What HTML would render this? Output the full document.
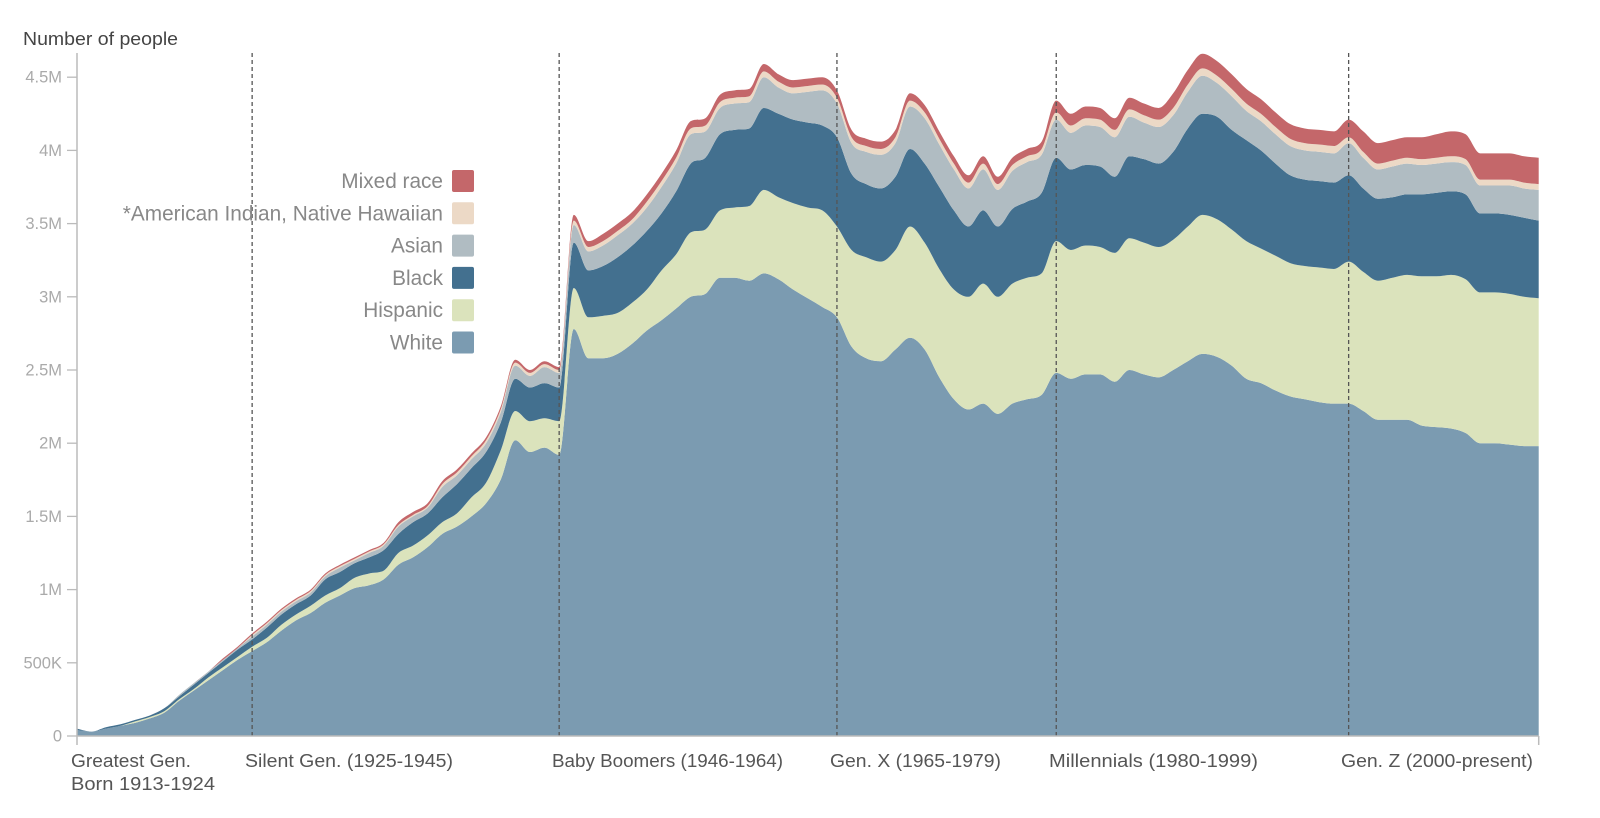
<!DOCTYPE html>
<html><head><meta charset="utf-8"><style>
html,body{margin:0;padding:0;background:#fff;}
svg{display:block;font-family:"Liberation Sans",sans-serif;}
</style></head><body>
<svg id="chart" width="1600" height="818" viewBox="0 0 1600 818" xmlns="http://www.w3.org/2000/svg">
<g id="areas"></g>
<g id="grid"></g>
<g id="axes"></g>
<text x="23" y="45" font-size="18.5" fill="#444" textLength="155" lengthAdjust="spacingAndGlyphs">Number of people</text>
<g id="legend"></g>
</svg>
<script>
const years = [];
for (let y = 1913; y <= 2013; y++) years.push(y);
const white = [.04,.03,.05,.07,.09,.12,.16,.24,.31,.38,.45,.52,.58,.64,.72,.79,.84,.91,.96,1.01,1.03,1.07,1.17,1.22,1.29,1.38,1.43,1.50,1.59,1.75,2.02,1.94,1.97,1.92,2.78,2.58,2.58,2.61,2.68,2.77,2.84,2.92,3.00,3.02,3.13,3.13,3.11,3.16,3.12,3.05,2.99,2.93,2.86,2.66,2.58,2.56,2.64,2.72,2.64,2.45,2.30,2.23,2.27,2.20,2.27,2.30,2.33,2.48,2.44,2.47,2.47,2.42,2.50,2.47,2.45,2.50,2.56,2.61,2.59,2.53,2.44,2.41,2.36,2.32,2.30,2.28,2.27,2.27,2.22,2.16,2.16,2.16,2.12,2.11,2.10,2.07,2.00,2.00,1.99,1.98,1.98];
const hispanic = [0,0,0,0,.01,.01,.01,.01,.01,.02,.02,.02,.03,.03,.04,.04,.05,.05,.05,.07,.08,.06,.08,.08,.08,.08,.09,.13,.14,.20,.20,.21,.20,.23,.28,.28,.29,.28,.28,.28,.34,.37,.44,.44,.46,.48,.51,.57,.56,.59,.62,.66,.62,.66,.69,.68,.68,.76,.73,.74,.75,.77,.82,.80,.82,.83,.83,.90,.88,.88,.87,.88,.90,.90,.89,.89,.92,.95,.94,.93,.94,.92,.92,.91,.91,.92,.92,.97,.95,.95,.97,.99,1.02,1.03,1.05,1.05,1.03,1.03,1.03,1.02,1.01];
const black = [.01,0,.01,.01,.01,.01,.02,.02,.03,.03,.04,.05,.05,.07,.07,.07,.07,.11,.11,.10,.11,.14,.13,.16,.15,.17,.20,.20,.21,.19,.22,.23,.24,.23,.31,.32,.34,.38,.39,.40,.39,.43,.47,.49,.52,.53,.53,.56,.57,.57,.58,.58,.61,.52,.50,.50,.50,.53,.54,.56,.54,.48,.50,.48,.51,.52,.55,.57,.55,.55,.55,.52,.56,.57,.57,.60,.67,.69,.70,.68,.69,.67,.63,.60,.59,.59,.59,.59,.57,.56,.55,.55,.56,.57,.57,.58,.54,.54,.54,.54,.53];
const asian = [0,0,0,0,0,0,0,.01,.01,.01,.01,.01,.02,.02,.02,.02,.02,.02,.03,.02,.03,.03,.05,.04,.04,.07,.06,.06,.06,.07,.09,.08,.11,.10,.12,.13,.14,.15,.15,.16,.18,.19,.20,.18,.18,.18,.18,.21,.18,.18,.21,.24,.23,.21,.22,.23,.23,.29,.31,.29,.28,.26,.28,.25,.26,.27,.26,.26,.25,.27,.27,.27,.27,.25,.25,.25,.25,.26,.23,.23,.20,.20,.20,.20,.20,.20,.20,.22,.21,.20,.21,.21,.20,.20,.20,.20,.19,.19,.20,.20,.21];
const aian = [0,0,0,0,0,0,0,0,0,0,0,0,.01,.01,.01,.01,.01,.01,.01,.01,.01,.01,.01,.01,.01,.02,.02,.02,.02,.02,.02,.02,.02,.02,.03,.03,.03,.03,.03,.04,.04,.04,.04,.04,.04,.04,.04,.04,.04,.04,.04,.04,.04,.04,.04,.04,.04,.04,.04,.04,.04,.04,.04,.04,.04,.04,.04,.05,.05,.05,.05,.05,.05,.05,.05,.05,.05,.05,.05,.05,.05,.05,.05,.05,.05,.05,.05,.04,.04,.04,.04,.04,.04,.04,.04,.04,.04,.04,.04,.04,.04];
const mixed = [0,0,0,0,0,0,0,0,0,0,.01,.01,.01,.01,.01,.01,.01,.01,.01,.01,.01,.01,.02,.02,.02,.02,.02,.02,.02,.02,.02,.02,.02,.02,.04,.04,.05,.05,.05,.05,.05,.05,.05,.05,.05,.05,.05,.05,.05,.05,.05,.05,.05,.05,.05,.05,.05,.05,.05,.05,.05,.05,.05,.05,.05,.05,.05,.08,.08,.08,.08,.08,.08,.08,.08,.10,.10,.10,.10,.10,.10,.10,.10,.10,.10,.10,.10,.12,.14,.14,.14,.14,.15,.16,.17,.17,.18,.18,.18,.18,.18];
const seriesNames = ["White","Hispanic","Black","Asian","*American Indian, Native Hawaiian","Mixed race"];
const seriesKeys = ["white","hispanic","black","asian","aian","mixed"];
const seriesColors = ["#7b9bb1","#dbe3bc","#43708f","#b0bcc2","#ecd9c6","#c4676a"];
const yTicks = [0,0.5,1,1.5,2,2.5,3,3.5,4,4.5];
const yTickLabels = ["0","500K","1M","1.5M","2M","2.5M","3M","3.5M","4M","4.5M"];
const dividerYears = [1925,1946,1965,1980,2000];
const genLabels = [
  {t:"Greatest Gen.", x:71, y:767, w:120},
  {t:"Born 1913-1924", x:71, y:790, w:144},
  {t:"Silent Gen. (1925-1945)", x:245, y:767, w:208},
  {t:"Baby Boomers (1946-1964)", x:552, y:767, w:231},
  {t:"Gen. X (1965-1979)", x:830, y:767, w:171},
  {t:"Millennials (1980-1999)", x:1049, y:767, w:209},
  {t:"Gen. Z (2000-present)", x:1341, y:767, w:192}
];
const seriesData = [white,hispanic,black,asian,aian,mixed];

const NS="http://www.w3.org/2000/svg";
const X0=76.7, PXY=14.62, Y0=736, PXM=146.4;
function xs(yr){return X0+(yr-1913)*PXY;}
function ys(v){return Y0-v*PXM;}
function mk(tag,attrs,parent){const e=document.createElementNS(NS,tag);for(const k in attrs)e.setAttribute(k,attrs[k]);parent.appendChild(e);return e;}

function monotone(px,py){
  const n=px.length, d=[], m=[];
  for(let i=0;i<n-1;i++) d.push((py[i+1]-py[i])/(px[i+1]-px[i]));
  m[0]=d[0]; m[n-1]=d[n-2];
  for(let i=1;i<n-1;i++){ if(d[i-1]*d[i]<=0) m[i]=0; else { m[i]=(d[i-1]+d[i])/2; const a=m[i]/d[i-1], b=m[i]/d[i]; const s=a*a+b*b; if(s>9){const t=3/Math.sqrt(s); m[i]=t*a*d[i-1];} } }
  let s="";
  for(let i=0;i<n-1;i++){ const h=px[i+1]-px[i];
    s+=` C${(px[i]+h/3).toFixed(2)},${(py[i]+m[i]*h/3).toFixed(2)} ${(px[i+1]-h/3).toFixed(2)},${(py[i+1]-m[i+1]*h/3).toFixed(2)} ${px[i+1].toFixed(2)},${py[i+1].toFixed(2)}`; }
  return s;
}

const areas=document.getElementById('areas');
const cum=years.map(()=>0);
const px=years.map(xs);
seriesData.forEach((arr,si)=>{
  const lower=cum.slice();
  arr.forEach((v,i)=>{cum[i]+=v;});
  const upper=cum.slice();
  const uy=upper.map(ys), ly=lower.map(ys);
  let d=`M${px[0]},${uy[0]}`+monotone(px,uy);
  const rx=px.slice().reverse(), ry=ly.slice().reverse();
  d+=` L${rx[0]},${ry[0]}`+monotone(rx.map(v=>-v),ry).replace(/C(-?[\d.]+),(-?[\d.]+) (-?[\d.]+),(-?[\d.]+) (-?[\d.]+),(-?[\d.]+)/g,(m,a,b,c,e,f,g)=>`C${-a},${b} ${-c},${e} ${-f},${g}`)+" Z";
  const p=mk('path',{d:d,fill:seriesColors[si]},areas);
  
  
});

const grid=document.getElementById('grid');
dividerYears.forEach(yr=>{
  const l=mk('line',{x1:xs(yr),x2:xs(yr),y1:53,y2:Y0,stroke:"#555","stroke-width":1.3,"stroke-dasharray":"4,3"},grid);
  
  
});

const axes=document.getElementById('axes');
const ya=mk('line',{x1:77,x2:77,y1:53,y2:745,stroke:"#bbb","stroke-width":1.5},axes);


const xa=mk('line',{x1:77,x2:xs(2013),y1:Y0,y2:Y0,stroke:"#bbb","stroke-width":1.5},axes);


const xt=mk('line',{x1:xs(2013),x2:xs(2013),y1:Y0,y2:745,stroke:"#bbb","stroke-width":1.5},axes);


yTicks.forEach((v,i)=>{
  const t=mk('line',{x1:67,x2:77,y1:ys(v),y2:ys(v),stroke:"#bbb","stroke-width":1.3},axes);
  
  
  const tx=mk('text',{x:62,y:ys(v)+5.5,"text-anchor":"end","font-size":16.5,fill:"#aaa"},axes);
  tx.textContent=yTickLabels[i];
  
  
});
genLabels.forEach(g=>{
  const tx=mk('text',{x:g.x,y:g.y,"font-size":18,fill:"#555",textLength:g.w,lengthAdjust:"spacingAndGlyphs"},axes);
  tx.textContent=g.t;
  
  
});

const legend=document.getElementById('legend');
for(let i=5;i>=0;i--){
  const row=5-i, cy=181+row*32.3;
  const r=mk('rect',{x:452,y:cy-11,width:22,height:22,rx:2,fill:seriesColors[i]},legend);
  
  
  const t=mk('text',{x:443,y:cy+7,"text-anchor":"end","font-size":20.8,fill:"#888"},legend);
  t.textContent=seriesNames[i];
  
  
}
</script>
</body></html>
